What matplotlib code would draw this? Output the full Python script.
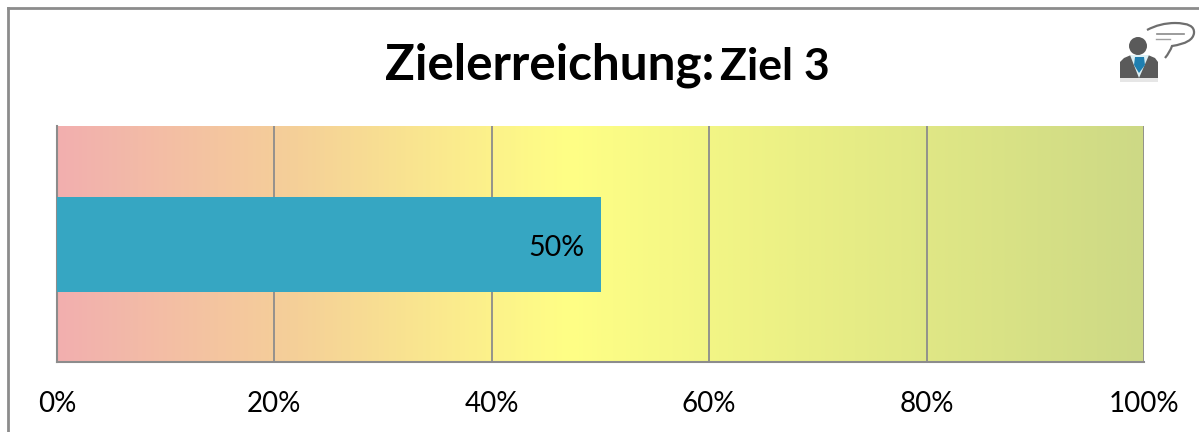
import matplotlib
matplotlib.use("Agg")
import matplotlib.pyplot as plt
import numpy as np
from matplotlib.colors import LinearSegmentedColormap
from matplotlib.patches import Rectangle, Circle, Polygon, PathPatch
from matplotlib.path import Path

categories = ["Ziel 3"]
values = [50]
ticks = [0, 20, 40, 60, 80, 100]
tick_labels = ["0%", "20%", "40%", "60%", "80%", "100%"]
title_main = "Zielerreichung:"
title_sub = "Ziel 3"
gradient_stops = ["#F2AFAF", "#F5D098", "#FFFF85", "#CDD985"]
gradient_pos = [0.0, 0.22, 0.47, 1.0]

W, H = 1199, 432
plt.rcParams['font.family'] = ['Lato', 'DejaVu Sans']
fig = plt.figure(figsize=(W/100, H/100), dpi=100, facecolor="white")

def fx(x): return x / W
def fy(y): return 1 - y / H

# outer chart frame
fig.add_artist(plt.Line2D([fx(8), fx(8)], [0, fy(8)], color="#8C8C8C", lw=2.0))
fig.add_artist(plt.Line2D([fx(8), 1], [fy(8), fy(8)], color="#8C8C8C", lw=2.0))

ax = fig.add_axes([fx(57), fy(362), (1144-57)/W, (362-126)/H])
cmap = LinearSegmentedColormap.from_list("g", list(zip(gradient_pos, gradient_stops)))
ax.imshow(np.linspace(0, 1, 512)[None, :], cmap=cmap, aspect="auto",
          extent=[0, 100, -0.5, 0.5], zorder=0)
ax.set_xlim(0, 100)
ax.set_ylim(-0.5, 0.5)
ax.set_xticks(ticks, tick_labels, fontsize=20, color="black")
ax.set_yticks([])
ax.tick_params(axis="x", length=0, pad=21)
ax.grid(axis="x", color="#8C8C8C", lw=1.3, zorder=1)
ax.set_axisbelow(False)
for s in ["top", "right"]:
    ax.spines[s].set_visible(False)
for s in ["left", "bottom"]:
    ax.spines[s].set_color("#8C8C8C")
    ax.spines[s].set_linewidth(1.5)

y_pos = [-0.002]
ax.barh(y_pos, values, height=0.4, color="#36A6C2", zorder=3)
ax.text(values[0] - 1.5, -0.015, f"{values[0]}%", ha="right", va="center",
        fontsize=20.5, color="black", zorder=4)

# title in two sizes
fig.text(fx(385), fy(80), title_main, fontsize=35.6, fontweight="bold", ha="left", va="baseline", color="black")
fig.text(fx(720), fy(80), title_sub, fontsize=32, fontweight="bold", ha="left", va="baseline", color="black")

# person icon, drawn in pixel coordinates
icon = fig.add_axes([fx(1110), fy(85), 89/W, 70/H])
icon.set_xlim(1110, 1199)
icon.set_ylim(85, 15)
icon.axis("off")
icon.add_patch(Polygon([[1120, 78], [1120, 62], [1124, 58], [1131, 55], [1148, 55], [1155, 58], [1158, 62], [1158, 78]],
                       color="#5A5A5A", lw=0))
icon.add_patch(Polygon([[1130, 55], [1149, 55], [1139, 78]], color="#DDF0F5", lw=0))
icon.add_patch(Polygon([[1135, 57], [1144, 57], [1145, 65], [1139, 73], [1134, 65]], color="#1F7FB0", lw=0))
icon.add_patch(Circle((1138, 46), 9, color="#5A5A5A", lw=0))
icon.add_patch(Rectangle((1120, 78), 38, 4, color="#E6E6E6", lw=0))
bubble = Path([(1147, 30), (1160, 23), (1175, 23), (1195, 23), (1194, 33), (1193, 43), (1172, 46),
               (1170, 52), (1165, 58)],
              [Path.MOVETO, Path.CURVE3, Path.CURVE3, Path.CURVE3, Path.CURVE3, Path.CURVE3, Path.CURVE3,
               Path.CURVE3, Path.CURVE3])
icon.add_patch(PathPatch(bubble, fc="none", ec="#6E6E6E", lw=1.6))
icon.plot([1157, 1184], [34, 34], color="#8A8A8A", lw=1.2)
icon.plot([1156, 1170], [38.5, 38.5], color="#A0A0A0", lw=1.0)

fig.savefig("out.png", dpi=100, facecolor="white")
